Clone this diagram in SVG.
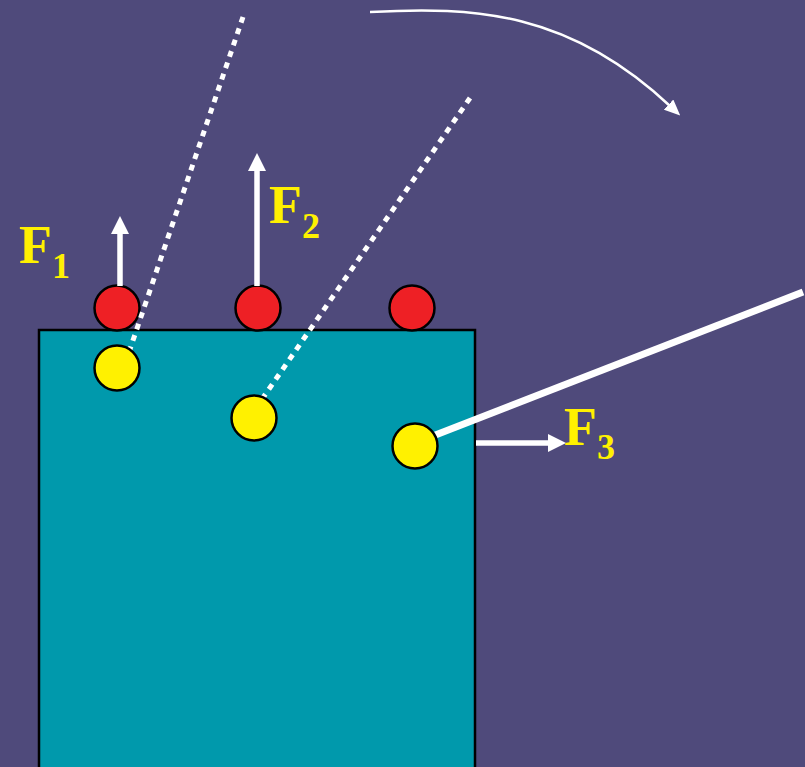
<svg xmlns="http://www.w3.org/2000/svg" width="805" height="767" viewBox="0 0 805 767">
  <style>
    .bg { fill: #4F4A7B; }
    .block { fill: #0099AC; stroke: #000; stroke-width: 2.5; }
    .red { fill: #EE2025; stroke: #000; stroke-width: 2.5; }
    .yel { fill: #FFF100; stroke: #000; stroke-width: 2.5; }
    .force { stroke: #FFF; stroke-width: 5.5; fill: none; }
    .dots { stroke: #FFF; stroke-width: 5; stroke-dasharray: 6 6; fill: none; }
    .rod { stroke: #FFF; stroke-width: 7; fill: none; }
    .curve { stroke: #FFF; stroke-width: 2.5; fill: none; }
    .lbl { font-family: "Liberation Serif", "Times New Roman", serif; font-weight: bold; font-size: 54px; fill: #FFF100; }
    .sub { font-size: 36px; }
  </style>
  <defs>
    <marker id="bigHead" markerUnits="userSpaceOnUse" viewBox="0 0 18 18" refX="0" refY="9" markerWidth="18" markerHeight="18" orient="auto">
      <path d="M0,0 L18,9 L0,18 Z" fill="#FFF"/>
    </marker>
    <marker id="smallHead" markerUnits="userSpaceOnUse" viewBox="0 0 16 14" refX="2" refY="7" markerWidth="16" markerHeight="14" orient="auto">
      <path d="M0,0 L16,7 L0,14 Z" fill="#FFF"/>
    </marker>
  </defs>
  <rect class="bg" x="0" y="0" width="805" height="767"/>

  <g id="block">
    <rect class="block" x="39" y="330" width="436" height="445"/>
  </g>

  <g id="red-balls">
    <g id="red1"><circle class="red" cx="117" cy="308" r="22.5"/></g>
    <g id="red2"><circle class="red" cx="258" cy="308" r="22.5"/></g>
    <g id="red3"><circle class="red" cx="412" cy="308" r="22.5"/></g>
  </g>

  <g id="connectors">
    <line class="force" x1="120" y1="286" x2="120" y2="234" marker-end="url(#bigHead)"/>
    <line class="force" x1="257" y1="286" x2="257" y2="171" marker-end="url(#bigHead)"/>
    <line class="force" x1="476" y1="443" x2="548" y2="443" marker-end="url(#bigHead)"/>
    <line class="dots" x1="243" y1="17" x2="128" y2="355"/>
    <line class="dots" x1="470" y1="98" x2="258" y2="405"/>
    <line class="rod" x1="803" y1="292" x2="420" y2="441"/>
    <path class="curve" d="M370,12 C475,6 570,12 670,106" marker-end="url(#smallHead)"/>
  </g>

  <g id="yellow-balls">
    <g id="yel1"><circle class="yel" cx="117" cy="368" r="22.5"/></g>
    <g id="yel2"><circle class="yel" cx="254" cy="418" r="22.5"/></g>
    <g id="yel3"><circle class="yel" cx="415" cy="446" r="22.5"/></g>
  </g>

  <g id="labels">
    <text class="lbl" x="19" y="263">F<tspan class="sub" y="278">1</tspan></text>
    <text class="lbl" x="269" y="223">F<tspan class="sub" y="238">2</tspan></text>
    <text class="lbl" x="564" y="445">F<tspan class="sub" y="459">3</tspan></text>
  </g>
</svg>
